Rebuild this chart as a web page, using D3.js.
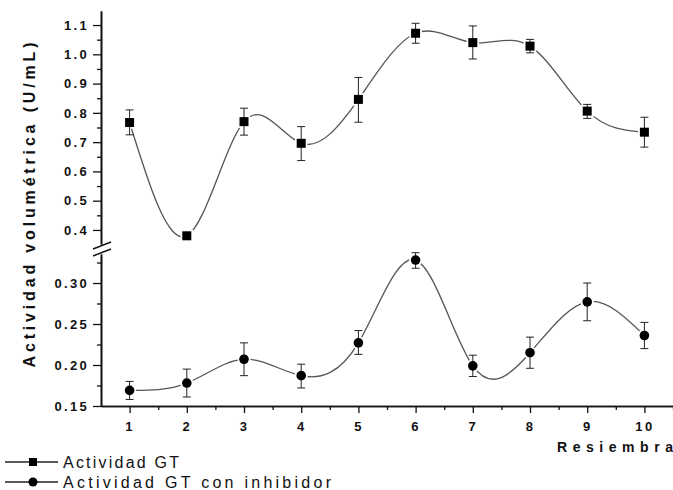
<!DOCTYPE html>
<html>
<head>
<meta charset="utf-8">
<script src="https://cdn.jsdelivr.net/npm/d3@7"></script>
<style>
  body { margin: 0; background: #fff; }
  svg { display: block; font-family: "Liberation Sans", Arial, Helvetica, sans-serif; }
  .axis path, .axis line { stroke: #111; }
  .axis text { fill: #111; font-weight: bold; font-size: 13px; letter-spacing: 2.3px; }
</style>
</head>
<body>
<div id="chart"></div>
<script>
// Data
const resiembra = [1, 2, 3, 4, 5, 6, 7, 8, 9, 10];

// Actividad GT (upper panel)
const gtMean = [0.767, 0.380, 0.770, 0.696, 0.846, 1.072, 1.040, 1.028, 0.806, 0.734];
const gtLow = [0.725, 0.372, 0.724, 0.637, 0.768, 1.038, 0.984, 1.005, 0.781, 0.683];
const gtHigh = [0.810, 0.388, 0.816, 0.753, 0.921, 1.106, 1.097, 1.051, 0.829, 0.785];

// Actividad GT con inhibidor (lower panel)
const inhMean = [0.169, 0.178, 0.207, 0.187, 0.227, 0.328, 0.199, 0.215, 0.277, 0.236];
const inhLow = [0.158, 0.161, 0.187, 0.172, 0.213, 0.318, 0.186, 0.196, 0.254, 0.220];
const inhHigh = [0.180, 0.195, 0.227, 0.201, 0.242, 0.337, 0.212, 0.234, 0.300, 0.252];

// Tick values
const upperTicks = [0.4, 0.5, 0.6, 0.7, 0.8, 0.9, 1.0, 1.1];
const upperMinor = [0.45, 0.55, 0.65, 0.75, 0.85, 0.95, 1.05];
const lowerTicks = [0.15, 0.20, 0.25, 0.30];
const lowerMinor = [0.175, 0.225, 0.275, 0.325];
const xMinor = [1.5, 2.5, 3.5, 4.5, 5.5, 6.5, 7.5, 8.5, 9.5, 10.5];

const xTitle = "Resiembra";
const yTitle = "Actividad volumétrica (U/mL)";
const legendLabels = ["Actividad GT", "Actividad GT con inhibidor"];

const width = 673;
const height = 490;

const svg = d3
  .select("#chart")
  .append("svg")
  .attr("width", width)
  .attr("height", height);

// Scales: one x, two y segments around the break
const x = d3.scaleLinear().domain([0.5, 10.5]).range([101, 673]);
const yTop = d3.scaleLinear().domain([0.352, 1.148]).range([244, 11]);
const yBot = d3.scaleLinear().domain([0.15, 0.3354]).range([406, 254]);

// Axes
function drawAxis(axis, tx, ty) {
  const g = svg
    .append("g")
    .attr("class", "axis")
    .attr("transform", `translate(${tx},${ty})`)
    .call(axis);
  g.select(".domain").attr("stroke-width", 1.6);
  g.selectAll(".tick line").attr("stroke-width", 1.3);
  return g;
}

drawAxis(
  d3.axisLeft(yTop).tickValues(upperTicks).tickFormat(d3.format(".1f"))
    .tickSize(8).tickSizeOuter(0).tickPadding(4),
  101, 0
);
drawAxis(d3.axisLeft(yTop).tickValues(upperMinor).tickFormat("").tickSize(4).tickSizeOuter(0), 101, 0);

drawAxis(
  d3.axisLeft(yBot).tickValues(lowerTicks).tickFormat(d3.format(".2f"))
    .tickSize(8).tickSizeOuter(0).tickPadding(4),
  101, 0
);
drawAxis(d3.axisLeft(yBot).tickValues(lowerMinor).tickFormat("").tickSize(4).tickSizeOuter(0), 101, 0);

drawAxis(
  d3.axisBottom(x).tickValues(resiembra).tickFormat(d3.format("d"))
    .tickSize(7).tickSizeOuter(0).tickPadding(9),
  0, 406
);
drawAxis(d3.axisBottom(x).tickValues(xMinor).tickFormat("").tickSize(4).tickSizeOuter(0), 0, 406);

// Axis break marks
[[0, 0], [0, 7]].forEach(([dx, dy]) => {
  svg
    .append("line")
    .attr("x1", 93 + dx).attr("y1", 249 + dy)
    .attr("x2", 111 + dx).attr("y2", 242 + dy)
    .attr("stroke", "#111")
    .attr("stroke-width", 1.4);
});

// Axis titles
svg
  .append("text")
  .attr("x", 673)
  .attr("y", 452)
  .attr("text-anchor", "end")
  .attr("font-size", 14)
  .attr("font-weight", "bold")
  .attr("fill", "#111")
  .attr("textLength", 116)
  .attr("lengthAdjust", "spacing")
  .text(xTitle);

svg
  .append("text")
  .attr("transform", "translate(35,205) rotate(-90)")
  .attr("text-anchor", "middle")
  .attr("font-size", 16)
  .attr("font-weight", "bold")
  .attr("fill", "#111")
  .attr("textLength", 325)
  .attr("lengthAdjust", "spacing")
  .text(yTitle);

// Draw one series: spline, halo, error bars, markers
function drawSeries(mean, low, high, y, shape) {
  const pts = resiembra.map((r, i) => ({ r, m: mean[i], lo: low[i], hi: high[i] }));
  const g = svg.append("g");

  const line = d3
    .line()
    .x((d) => x(d.r))
    .y((d) => y(d.m))
    .curve(d3.curveNatural);

  g.append("path")
    .datum(pts)
    .attr("d", line)
    .attr("fill", "none")
    .attr("stroke", "#555")
    .attr("stroke-width", 1.3);

  // white halo leaves a small gap between curve and marker
  drawMarkers(g, pts, y, shape, "#fff", 3.5);

  const bars = g.selectAll(".err").data(pts).join("g").attr("stroke", "#222").attr("stroke-width", 1);
  bars.append("line")
    .attr("x1", (d) => x(d.r)).attr("x2", (d) => x(d.r))
    .attr("y1", (d) => y(d.hi)).attr("y2", (d) => y(d.lo));
  bars.append("line")
    .attr("x1", (d) => x(d.r) - 4).attr("x2", (d) => x(d.r) + 4)
    .attr("y1", (d) => y(d.hi)).attr("y2", (d) => y(d.hi));
  bars.append("line")
    .attr("x1", (d) => x(d.r) - 4).attr("x2", (d) => x(d.r) + 4)
    .attr("y1", (d) => y(d.lo)).attr("y2", (d) => y(d.lo));

  drawMarkers(g, pts, y, shape, "#000", 0);
}

function drawMarkers(g, pts, y, shape, color, halo) {
  if (shape === "square") {
    g.selectAll(null).data(pts).join("rect")
      .attr("x", (d) => x(d.r) - 4.5)
      .attr("y", (d) => y(d.m) - 4.5)
      .attr("width", 9).attr("height", 9)
      .attr("fill", color)
      .attr("stroke", halo ? color : "none")
      .attr("stroke-width", halo);
  } else {
    g.selectAll(null).data(pts).join("circle")
      .attr("cx", (d) => x(d.r))
      .attr("cy", (d) => y(d.m))
      .attr("r", 4.8)
      .attr("fill", color)
      .attr("stroke", halo ? color : "none")
      .attr("stroke-width", halo);
  }
}

drawSeries(gtMean, gtLow, gtHigh, yTop, "square");
drawSeries(inhMean, inhLow, inhHigh, yBot, "circle");

// Legend
const legendY = [462, 482];
const legendLen = [116, 268];
legendLabels.forEach((label, i) => {
  const lg = svg.append("g").attr("transform", `translate(0,${legendY[i]})`);
  lg.append("line").attr("x1", 5).attr("x2", 58).attr("stroke", "#222").attr("stroke-width", 1.3);
  if (i === 0) {
    lg.append("rect").attr("x", 29).attr("y", -4).attr("width", 8).attr("height", 8).attr("fill", "#000");
  } else {
    lg.append("circle").attr("cx", 33).attr("r", 4.5).attr("fill", "#000");
  }
  lg.append("text")
    .attr("x", 63)
    .attr("y", 5.5)
    .attr("font-size", 16)
    .attr("fill", "#111")
    .attr("textLength", legendLen[i])
    .attr("lengthAdjust", "spacing")
    .text(label);
});
</script>
</body>
</html>
